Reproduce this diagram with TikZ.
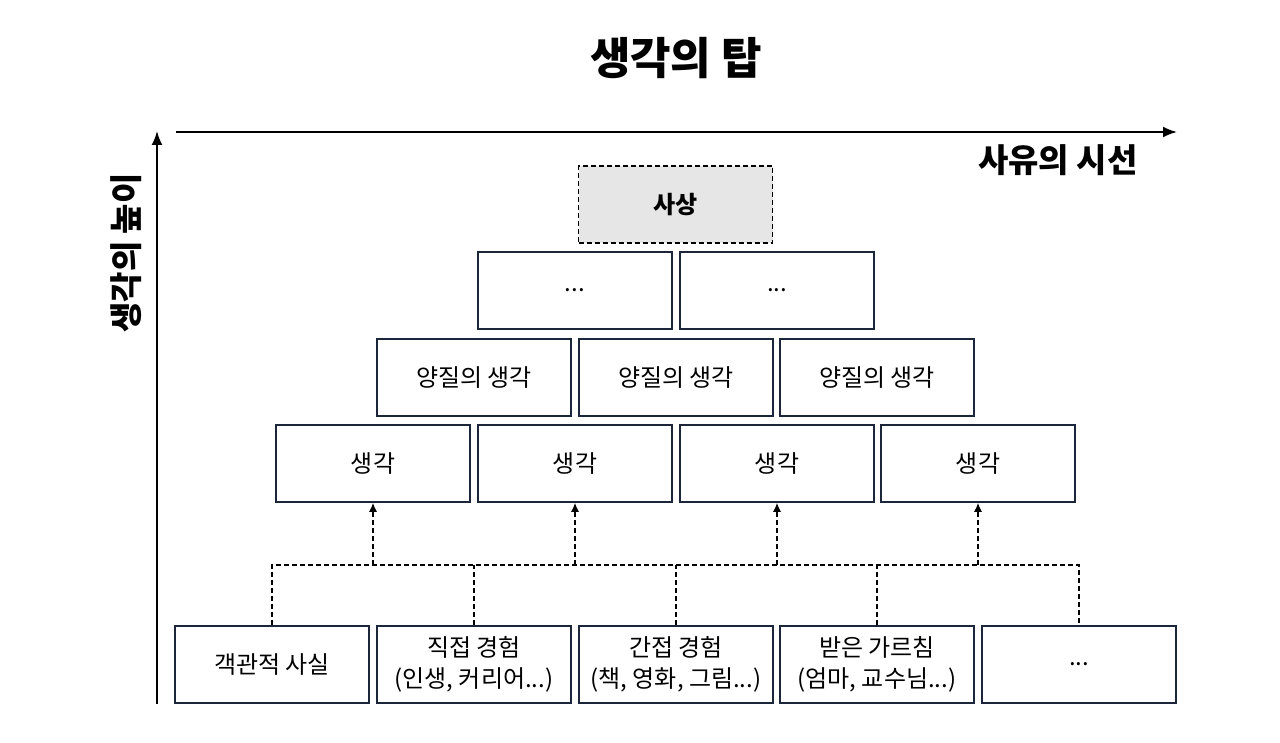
\documentclass[tikz,border=0pt]{standalone}
\usepackage{fontspec}
\setmainfont{Noto Sans CJK KR}
\usetikzlibrary{arrows.meta}
\definecolor{boxline}{RGB}{28,38,58}
\definecolor{topfill}{RGB}{230,230,230}
\tikzset{
  box/.style={draw=boxline, line width=1.5pt, fill=white, minimum width=194pt, minimum height=77pt, inner sep=0pt, align=center, font=\fontsize{24}{31}\selectfont},
  topbox/.style={box, draw=black, fill=topfill, dash pattern=on 5pt off 3pt, font=\fontsize{24}{31}\selectfont\bfseries},
  conn/.style={line width=1.5pt, dash pattern=on 5pt off 3pt},
  axis/.style={line width=2pt, -{Latex[length=14pt,width=11pt]}},
  axlabel/.style={font=\fontsize{33}{36}\selectfont\bfseries}
}
\begin{document}
\begin{tikzpicture}[x=1pt,y=-1pt]
\useasboundingbox (0,0) rectangle (1280,743);
% title
\node[font=\fontsize{44}{48}\selectfont\bfseries] (title) at (676,58) {생각의 탑};
% axes
\coordinate (origin) at (157,704);
\coordinate (ytip) at (157,131);
\coordinate (xstart) at (176,132);
\coordinate (xtip) at (1177,132);
\draw[axis] (origin) -- (ytip);
\draw[axis] (xstart) -- (xtip);
\node[axlabel, anchor=east] (xlab) at (1141,160) {사유의 시선};
\node[axlabel, rotate=90] (ylab) at (126,253) {생각의 높이};
% top
\node[topbox] (top) at (675.5,204.5) {사상};
% row 2
\node[box] (r2a) at (575,290.5) {...};
\node[box] (r2b) at (777,290.5) {...};
% row 3
\node[box] (r3a) at (474,377.5) {양질의 생각};
\node[box] (r3b) at (676,377.5) {양질의 생각};
\node[box] (r3c) at (877,377.5) {양질의 생각};
% row 4
\node[box] (t1) at (373,463.5) {생각};
\node[box] (t2) at (575,463.5) {생각};
\node[box] (t3) at (777,463.5) {생각};
\node[box] (t4) at (978,463.5) {생각};
% bottom
\node[box] (b1) at (272,664.5) {객관적 사실};
\node[box] (b2) at (474,664.5) {직접 경험\\(인생, 커리어...)};
\node[box] (b3) at (676,664.5) {간접 경험\\(책, 영화, 그림...)};
\node[box] (b4) at (877,664.5) {받은 가르침\\(엄마, 교수님...)};
\node[box] (b5) at (1079,664.5) {...};
% connectors
\coordinate (bus) at (0,565);
\draw[conn] (b1.north) -- (b1.north |- bus) -- (b5.north |- bus) -- (b5.north);
\draw[conn] (b2.north) -- (b2.north |- bus);
\draw[conn] (b3.north) -- (b3.north |- bus);
\draw[conn] (b4.north) -- (b4.north |- bus);
\foreach \t in {t1,t2,t3,t4}{
  \draw[conn, -{Latex[length=9pt,width=8pt]}] (\t.south |- bus) -- (\t.south);
}
\end{tikzpicture}
\end{document}
